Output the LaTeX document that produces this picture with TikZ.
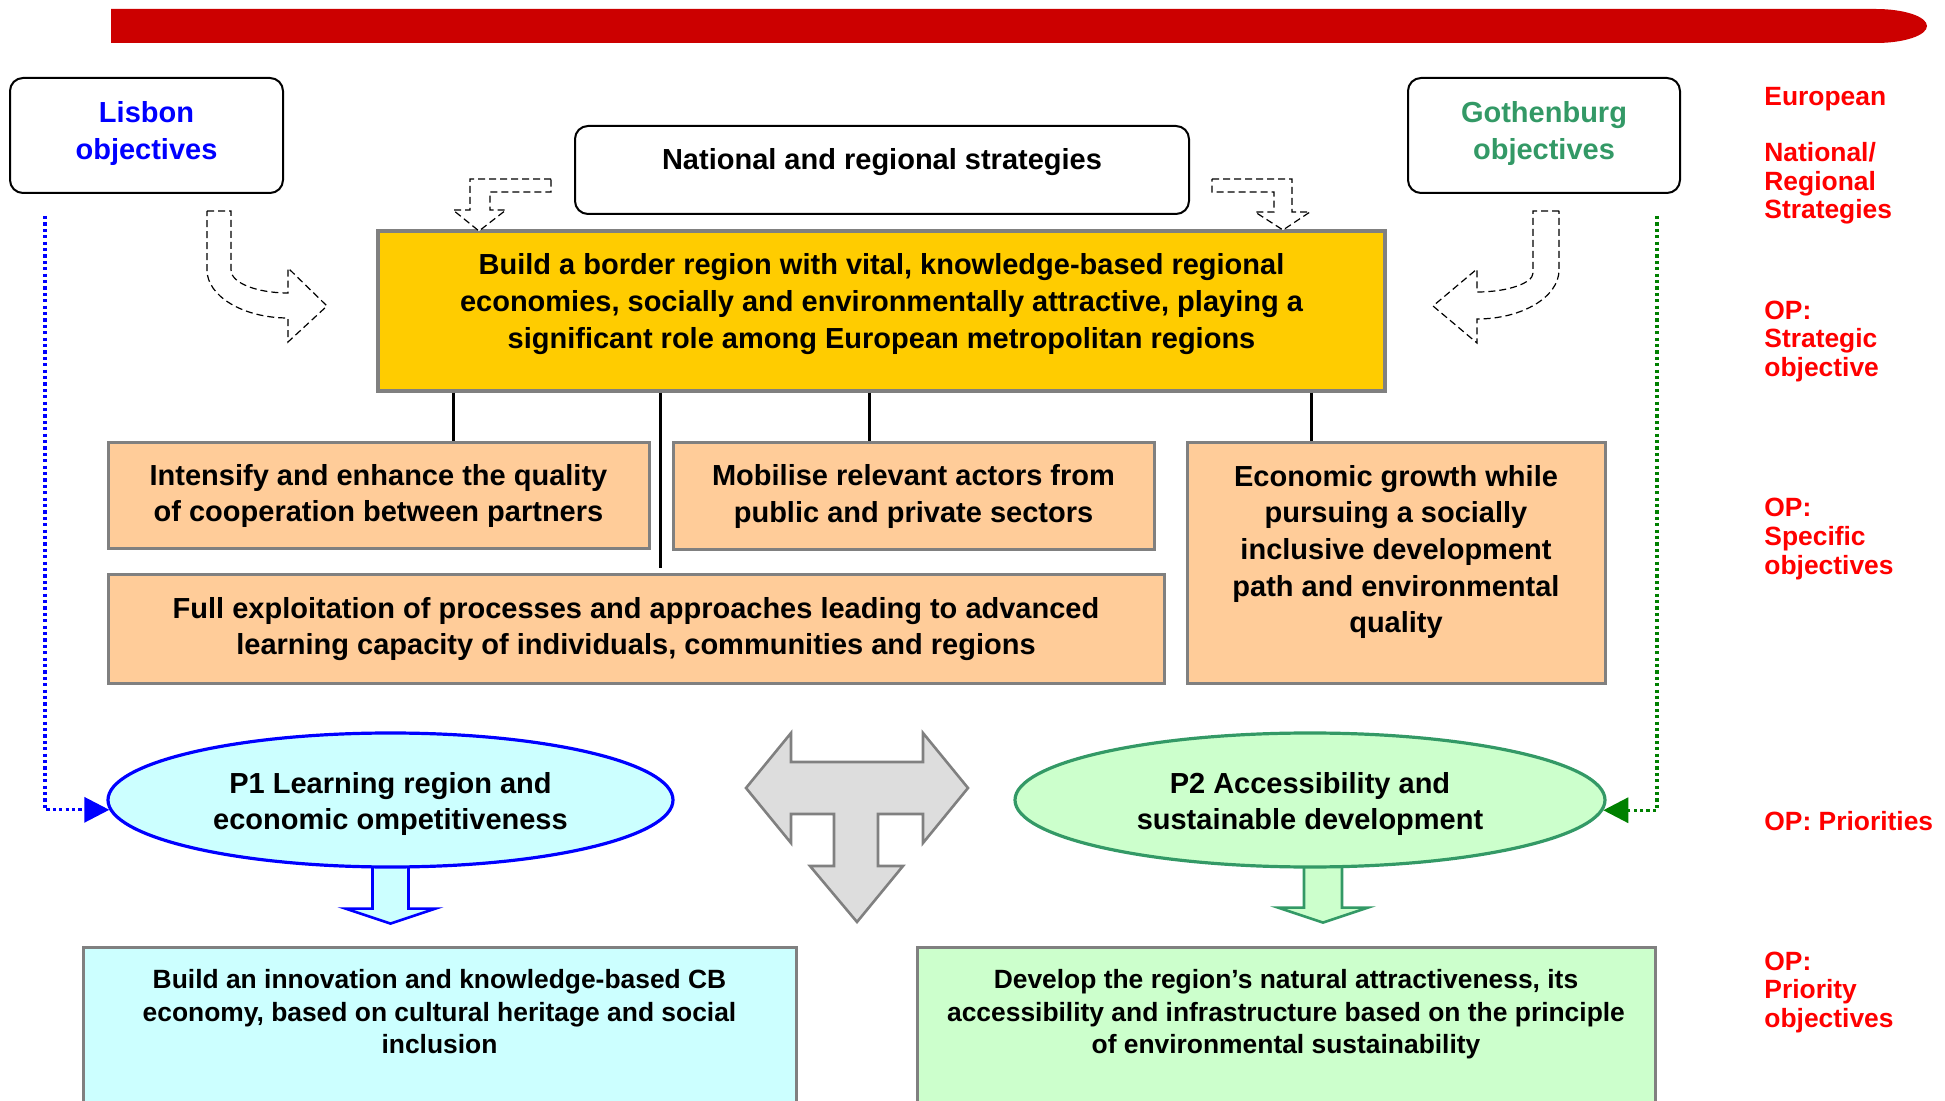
\documentclass[tikz,border=0pt]{standalone}
\usepackage{fontspec}
\setmainfont{Liberation Sans}
\usetikzlibrary{
  shapes.geometric,
  calc,
  backgrounds,
  arrows.meta
}
\definecolor{barred}{HTML}{CC0000}
\definecolor{labred}{HTML}{FF0000}
\definecolor{lisblue}{HTML}{0000FF}
\definecolor{gotgreen}{HTML}{339966}
\definecolor{dotgreen}{HTML}{008000}
\definecolor{stratfill}{HTML}{FFCC00}
\definecolor{specfill}{HTML}{FFCC99}
\definecolor{ponefill}{HTML}{CCFFFF}
\definecolor{ptwofill}{HTML}{CCFFCC}
\definecolor{boxgray}{HTML}{808080}
\definecolor{tfill}{HTML}{DDDDDD}

\begin{document}
\begin{tikzpicture}[x=0.5pt, y=-0.5pt,
    font=\bfseries\fontsize{14.5}{18.3}\selectfont,
    every node/.style={align=center},
    srcbox/.style={draw, line width=1pt, rounded corners=6.5pt, minimum height=57.5pt},
    specbox/.style={draw=boxgray, line width=1.5pt, fill=specfill},
    prio/.style={ellipse, line width=1.6pt, inner sep=0pt, minimum height=67pt},
    pobj/.style={draw=boxgray, line width=1.5pt, anchor=north, inner ysep=10.9pt,
      font=\bfseries\fontsize{13.2}{16.3}\selectfont},
    tier/.style={anchor=west, inner sep=0pt, align=left, text=labred,
      font=\bfseries\fontsize{13.2}{14.3}\selectfont},
    link/.style={line width=1.5pt},
    hollow/.style={draw, fill=white, line width=0.6pt, dash pattern=on 3.5pt off 2pt},
    blockarrow/.style={line width=1.3pt, line join=miter},
    dotlink/.style={line width=1.6pt, dash pattern=on 1.6pt off 1.6pt,
      -{Triangle[length=12.5pt,width=12.5pt]}}
  ]
    \useasboundingbox (0,0) rectangle (1945,1101);

    \fill[barred] (111,9) -- (1876,9)
      arc[start angle=90, end angle=-90, x radius=25.5pt, y radius=8.5pt] -- (111,43) -- cycle;

    \node[srcbox, minimum width=136.5pt, text=lisblue, text depth=5pt] (lisbon) at (146.5,135.5) {Lisbon\\objectives};
    \node[srcbox, minimum width=307pt, minimum height=44pt, text depth=11pt] (natl) at (882,170)
      {National and regional strategies};
    \node[srcbox, minimum width=136pt, text=gotgreen, text depth=5pt] (gothen) at (1544,135.5) {Gothenburg\\objectives};

    \node[draw=boxgray, line width=1.75pt, fill=stratfill, minimum width=503.5pt, minimum height=80pt]
      (strat) at (881.5,311)
      {Build a border region with vital, knowledge-based regional\\
       economies, socially and environmentally attractive, playing a\\
       significant role among European metropolitan regions\rule[-10pt]{0pt}{10pt}};

    \node[specbox, minimum width=270.5pt, minimum height=53pt] (intens) at (378.5,496)
      {Intensify and enhance the quality\\of cooperation between partners};
    \node[specbox, minimum width=240.5pt, minimum height=53.5pt] (mobil) at (913.5,496.5)
      {Mobilise relevant actors from\\public and private sectors};
    \node[specbox, minimum width=528pt, minimum height=54pt] (full) at (636,629)
      {Full exploitation of processes and approaches leading to advanced\\
       learning capacity of individuals, communities and regions};
    \node[specbox, minimum width=209pt, minimum height=120pt] (econ) at (1396,563)
      {Economic growth while\\pursuing a socially\\inclusive development\\
       path and environmental\\quality\rule[-14pt]{0pt}{14pt}};

    \node[prio, draw=lisblue, fill=ponefill, minimum width=282.5pt] (p1) at (390.5,800)
      {\rule{0pt}{14.6pt}P1 Learning region and\\economic ompetitiveness};
    \node[prio, draw=gotgreen, fill=ptwofill, minimum width=295pt] (p2) at (1310,800)
      {\rule{0pt}{14.6pt}P2 Accessibility and\\sustainable development};

    \node[pobj, fill=ponefill, minimum width=356.5pt] (obj1) at (439.5,946)
      {Build an innovation and knowledge-based CB\\
       economy, based on cultural heritage and social\\
       inclusion\rule[-50pt]{0pt}{50pt}};
    \node[pobj, fill=ptwofill, minimum width=369pt] (obj2) at (1286,946)
      {Develop the region’s natural attractiveness, its\\
       accessibility and infrastructure based on the principle\\
       of environmental sustainability\rule[-50pt]{0pt}{50pt}};

    \node[tier] (eu) at (1764,99.5) {European};
    \node[tier] (natreg) at (1764,183.5) {National/\\Regional\\Strategies};
    \node[tier] (opstrat) at (1764,341.5) {OP:\\Strategic\\objective};
    \node[tier] (opspec) at (1764,539) {OP:\\Specific\\objectives};
    \node[tier] (opprio) at (1764,821) {OP: Priorities};
    \node[tier] (oppobj) at (1764,992.5) {OP:\\Priority\\objectives};

    \draw[link] (strat.south -| 453,0) -- (intens.north -| 453,0);
    \draw[link] (strat.south -| 660,0) -- ($(full.north -| 660,0)+(0,-5)$);
    \draw[link] (strat.south -| 869,0) -- (mobil.north -| 869,0);
    \draw[link] (strat.south -| 1311,0) -- (econ.north -| 1311,0);

    \coordinate (lisdrop) at ($(lisbon.south west)+(36,22)$);
    \coordinate (gotdrop) at ($(gothen.south east)+(-24,22)$);
    \draw[dotlink, lisblue] (lisdrop) |- (p1.182.5);
    \draw[dotlink, dotgreen] (gotdrop) |- (p2.-2.5);

    \draw[hollow] (207,211) -- (231,211) -- (231,270) .. controls (231,283) and (257,293) .. (288,293)
      -- (288,268) -- (327,306) -- (288,342) -- (288,318) .. controls (243,318) and (207,296) .. (207,270) -- cycle;
    \draw[hollow] (1559,211) -- (1533,211) -- (1533,273) .. controls (1533,283) and (1508,292) .. (1477,292)
      -- (1477,269) -- (1433,306) -- (1477,343) -- (1477,319) .. controls (1522,319) and (1559,297) .. (1559,270) -- cycle;
    \draw[hollow] (551,179) -- (470,179) -- (470,210) -- (453,210) -- (479,231) -- (506,210)
      -- (490,210) -- (490,192) -- (551,192) -- cycle;
    \draw[hollow] (1212,179) -- (1292,179) -- (1292,212) -- (1310,212) -- (1283,230) -- (1255,212)
      -- (1274,212) -- (1274,192) -- (1212,192) -- cycle;

    \filldraw[blockarrow, draw=boxgray, fill=tfill] (746,788) -- (791,733) -- (791,762) -- (923,762)
      -- (923,733) -- (968,788) -- (923,843) -- (923,814) -- (878,814) -- (878,866) -- (903,866)
      -- (857,922) -- (810,866) -- (834,866) -- (834,814) -- (791,814) -- (791,843) -- cycle;

    \begin{pgfonlayer}{background}
      \filldraw[blockarrow, draw=lisblue, fill=ponefill] ([shift={(-18,-3)}]p1.south) -- ++(0,43) -- ++(-27,0)
        -- ++(45,15) -- ++(45,-15) -- ++(-27,0) -- ++(0,-43) -- cycle;
      \filldraw[blockarrow, draw=gotgreen, fill=ptwofill] ([shift={(-6,-3)}]p2.south) -- ++(0,42) -- ++(-26,0)
        -- ++(45,15) -- ++(45,-15) -- ++(-26,0) -- ++(0,-42) -- cycle;
    \end{pgfonlayer}
\end{tikzpicture}
\end{document}
